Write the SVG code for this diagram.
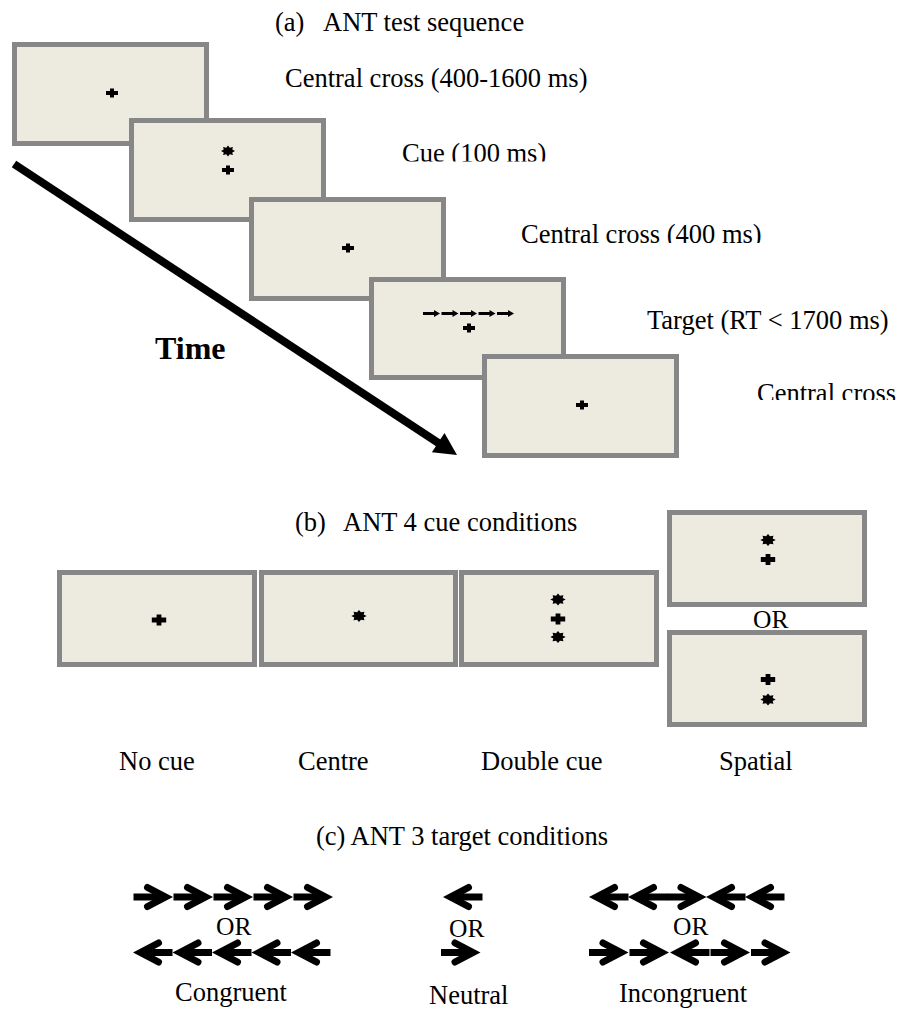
<svg xmlns="http://www.w3.org/2000/svg" xmlns:xlink="http://www.w3.org/1999/xlink" width="897" height="1010" viewBox="0 0 897 1010">
<style>
  .scr { fill: #edeae0; stroke: #878787; stroke-width: 5; }
  .t { font-family: "Liberation Serif", "Times New Roman", serif; font-size: 26.5px; fill: #000; }
  .tb { font-family: "Liberation Serif", "Times New Roman", serif; font-size: 32px; font-weight: bold; fill: #000; }
  .or { font-family: "Liberation Serif", "Times New Roman", serif; font-size: 25.5px; fill: #000; }
</style>
<defs>
  <path id="cross" d="M-6,-2 H-2 V-4.5 H2 V-2 H6 V2 H2 V4.5 H-2 V2 H-6 Z"/>
  <polygon id="star" points="7,0 4.25,1.38 4.95,3.89 1.76,3.33 0,5.5 -1.76,3.33 -4.95,3.89 -4.25,1.38 -7,0 -4.25,-1.38 -4.95,-3.89 -1.76,-3.33 0,-5.5 1.76,-3.33 4.95,-3.89 4.25,-1.38"/>
  <path id="sa" d="M0,-1.5 H11 V-3.4 L17,0 L11,3.4 V1.5 H0 Z"/>
  <g id="ar" fill="none" stroke="#000" stroke-width="7">
    <path d="M0,0 H32" stroke-linecap="butt"/>
    <path d="M14,-9.5 L32,0 L14,9.5" stroke-linecap="round" stroke-linejoin="miter"/>
  </g>
  <g id="al" transform="translate(39.5,0) scale(-1,1)"><use href="#ar"/></g>
  <clipPath id="c1"><rect x="0" y="0" width="897" height="161.5"/></clipPath>
  <clipPath id="c2"><rect x="0" y="0" width="897" height="243"/></clipPath>
  <clipPath id="c3"><rect x="0" y="0" width="897" height="400"/></clipPath>
</defs>

<!-- (a) ANT test sequence -->
<text class="t" x="275" y="31">(a)</text>
<text class="t" x="323" y="31">ANT test sequence</text>

<g id="screen1">
  <rect class="scr" x="14.5" y="44.5" width="192" height="99"/>
  <use href="#cross" x="112" y="93"/>
</g>
<g id="screen2">
  <rect class="scr" x="131.5" y="120.5" width="192" height="99"/>
  <use href="#star" x="228" y="151"/>
  <use href="#cross" x="228" y="170"/>
</g>
<g id="screen3">
  <rect class="scr" x="251.5" y="199.5" width="192" height="99"/>
  <use href="#cross" x="348" y="248"/>
</g>
<g id="screen4">
  <rect class="scr" x="371.5" y="279.5" width="192" height="98"/>
  <use href="#sa" x="423" y="313.5"/>
  <use href="#sa" x="441.5" y="313.5"/>
  <use href="#sa" x="460" y="313.5"/>
  <use href="#sa" x="478.5" y="313.5"/>
  <use href="#sa" x="497" y="313.5"/>
  <use href="#cross" x="469" y="328"/>
</g>
<g id="screen5">
  <rect class="scr" x="484.5" y="356.5" width="192" height="99"/>
  <use href="#cross" x="582" y="405"/>
</g>

<g id="labels-a">
  <text class="t" x="285" y="87">Central cross (400-1600 ms)</text>
  <text class="t" x="402" y="162" clip-path="url(#c1)">Cue (100 ms)</text>
  <text class="t" x="521" y="243" clip-path="url(#c2)">Central cross (400 ms)</text>
  <text class="t" x="647" y="329">Target (RT &lt; 1700 ms)</text>
  <text class="t" x="757" y="402" clip-path="url(#c3)">Central cross</text>
  <text class="tb" x="155" y="359">Time</text>
</g>

<g id="connectors">
  <line x1="14" y1="164" x2="439" y2="443.3" stroke="#000" stroke-width="8"/>
  <polygon points="457,455 431.9,452.3 444.5,433" fill="#000"/>
</g>

<!-- (b) ANT 4 cue conditions -->
<text class="t" x="295" y="531">(b)</text>
<text class="t" x="343" y="531">ANT 4 cue conditions</text>

<g id="nocue">
  <rect class="scr" x="59.5" y="572.5" width="195" height="92"/>
  <use href="#cross" transform="translate(159,620) scale(1.2)"/>
  <text class="t" x="119" y="770">No cue</text>
</g>
<g id="centre">
  <rect class="scr" x="261.5" y="572.5" width="194" height="92"/>
  <use href="#star" transform="translate(359,616) scale(1.1)"/>
  <text class="t" x="298" y="770">Centre</text>
</g>
<g id="doublecue">
  <rect class="scr" x="461.5" y="572.5" width="195" height="92"/>
  <use href="#star" transform="translate(558,599.5) scale(1.1)"/>
  <use href="#cross" transform="translate(558,619) scale(1.2)"/>
  <use href="#star" transform="translate(558,637) scale(1.1)"/>
  <text class="t" x="481" y="770">Double cue</text>
</g>
<g id="spatial">
  <rect class="scr" x="669.5" y="512.5" width="195" height="92"/>
  <use href="#star" transform="translate(768,540) scale(1.1)"/>
  <use href="#cross" transform="translate(768,559.5) scale(1.2)"/>
  <text class="or" x="753" y="628">OR</text>
  <rect class="scr" x="669.5" y="632.5" width="195" height="92"/>
  <use href="#cross" transform="translate(768,679.5) scale(1.2)"/>
  <use href="#star" transform="translate(768,699.5) scale(1.1)"/>
  <text class="t" x="719" y="770">Spatial</text>
</g>

<!-- (c) ANT 3 target conditions -->
<text class="t" x="316" y="845">(c) ANT 3 target conditions</text>

<g id="congruent">
  <use href="#ar" x="133.5" y="897"/>
  <use href="#ar" x="173.5" y="897"/>
  <use href="#ar" x="213.5" y="897"/>
  <use href="#ar" x="253.5" y="897"/>
  <use href="#ar" x="293.5" y="897"/>
  <text class="or" x="216" y="935">OR</text>
  <use href="#al" x="133" y="952.5"/>
  <use href="#al" x="172.5" y="952.5"/>
  <use href="#al" x="212" y="952.5"/>
  <use href="#al" x="251.5" y="952.5"/>
  <use href="#al" x="291" y="952.5"/>
  <text class="t" x="175" y="1001">Congruent</text>
</g>
<g id="neutral">
  <use href="#al" x="443" y="897"/>
  <text class="or" x="449" y="937">OR</text>
  <use href="#ar" x="441" y="952.5"/>
  <text class="t" x="429" y="1004">Neutral</text>
</g>
<g id="incongruent">
  <use href="#al" x="589" y="897"/>
  <use href="#al" x="628" y="897"/>
  <use href="#ar" x="667" y="897"/>
  <use href="#al" x="706" y="897"/>
  <use href="#al" x="745" y="897"/>
  <text class="or" x="673" y="935">OR</text>
  <use href="#ar" x="589" y="952.5"/>
  <use href="#ar" x="629.5" y="952.5"/>
  <use href="#al" x="670" y="952.5"/>
  <use href="#ar" x="710.5" y="952.5"/>
  <use href="#ar" x="751" y="952.5"/>
  <text class="t" x="619" y="1002">Incongruent</text>
</g>
</svg>
